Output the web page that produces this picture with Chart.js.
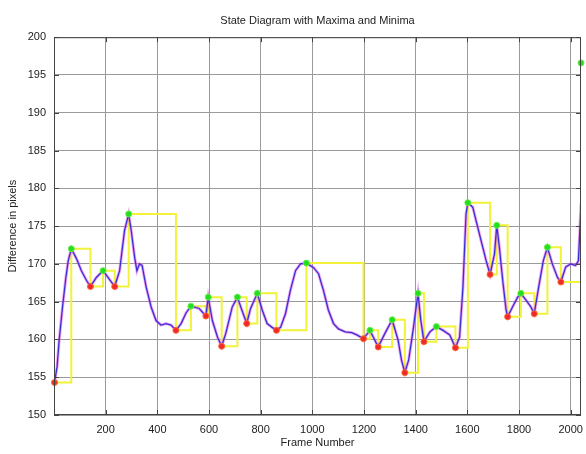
<!DOCTYPE html>
<html>
<head>
<meta charset="utf-8">
<title>State Diagram with Maxima and Minima</title>
<script src="https://cdn.jsdelivr.net/npm/chart.js@4.4.1/dist/chart.umd.min.js"></script>
<style>
  html, body { margin: 0; padding: 0; background: #fff; }
  #wrap { width: 586px; height: 454px; }
</style>
</head>
<body>
<div id="wrap"><canvas id="stateChart" width="586" height="454"></canvas></div>
<script>
// blue curve: difference per frame
const frames = [2, 12, 20, 33, 46, 55, 67, 87, 106, 126, 141, 164, 190, 209, 235, 254, 273, 289, 299, 312,
  321, 331, 341, 357, 376, 395, 414, 434, 453, 472, 492, 511, 530, 562, 588, 597, 613, 633, 649, 665,
  690, 710, 725, 746, 761, 787, 806, 825, 844, 861, 877, 896, 915, 935, 954, 977, 1005, 1024, 1043, 1062,
  1082, 1101, 1127, 1153, 1172, 1198, 1223, 1255, 1281, 1309, 1332, 1345, 1358, 1373, 1390, 1409, 1420, 1432, 1455, 1480,
  1506, 1532, 1554, 1570, 1583, 1595, 1602, 1621, 1634, 1653, 1673, 1688, 1705, 1714, 1724, 1737, 1750, 1756, 1775, 1795,
  1807, 1827, 1846, 1859, 1876, 1894, 1910, 1929, 1949, 1962, 1981, 2000, 2019, 2030, 2036, 2040];
const diffValues = [154.3, 156.4, 159.9, 164.3, 168.2, 170.4, 172.0, 170.7, 169.1, 167.8, 167.0, 168.2, 169.1, 168.2, 167.0, 169.1, 174.4, 176.6, 174.4, 170.9,
  169.1, 170.0, 169.8, 166.9, 164.3, 162.5, 161.9, 162.1, 161.9, 161.2, 162.1, 163.5, 164.4, 164.1, 163.1, 165.6, 162.5, 160.3, 159.1, 160.8,
  164.3, 165.6, 164.1, 162.1, 164.1, 166.1, 163.9, 162.1, 161.6, 161.2, 161.6, 163.4, 166.5, 169.1, 170.0, 170.1, 169.5, 168.7, 166.5, 163.9,
  162.1, 161.4, 161.0, 160.9, 160.6, 160.1, 161.2, 159.0, 160.8, 162.6, 159.9, 157.3, 155.6, 157.3, 161.2, 166.1, 162.5, 159.7, 161.0, 161.7,
  161.2, 160.6, 158.9, 160.3, 166.9, 176.6, 178.1, 177.5, 175.7, 173.1, 170.4, 168.6, 171.3, 175.1, 172.2, 167.8, 163.9, 163.0, 164.3, 165.6,
  166.1, 165.2, 164.3, 163.4, 166.9, 170.4, 172.2, 170.0, 168.2, 167.6, 169.6, 170.0, 169.8, 170.4, 174.8, 178.0];

// maxima (green) and minima (red)
const maxFrames = [67, 190, 289, 530, 597, 710, 787, 977, 1223, 1309, 1409, 1480, 1602, 1714, 1807, 1910, 2040];
const maxValues = [172.0, 169.1, 176.6, 164.4, 165.6, 165.6, 166.1, 170.1, 161.2, 162.6, 166.1, 161.7, 178.1, 175.1, 166.1, 172.2, 196.6];
const minFrames = [2, 141, 235, 472, 588, 649, 746, 861, 1198, 1255, 1358, 1432, 1554, 1688, 1756, 1859, 1962];
const minValues = [154.3, 167.0, 167.0, 161.2, 163.1, 159.1, 162.1, 161.2, 160.1, 159.0, 155.6, 159.7, 158.9, 168.6, 163.0, 163.4, 167.6];

// axis ticks
const xTicks = [200, 400, 600, 800, 1000, 1200, 1400, 1600, 1800, 2000];
const yTicks = [150, 155, 160, 165, 170, 175, 180, 185, 190, 195, 200];

const curvePts = frames.map((f, i) => ({ x: f, y: diffValues[i] }));
const maxPts = maxFrames.map((f, i) => ({ x: f, y: maxValues[i] }));
const minPts = minFrames.map((f, i) => ({ x: f, y: minValues[i] }));
// state diagram: holds the last extremum until the next one
const statePts = maxPts.concat(minPts).sort((a, b) => a.x - b.x);

const FONT = { family: '"Liberation Sans", Arial, sans-serif', size: 11 };

// box round the plot with inward ticks, like matlab axes
const boxPlugin = {
  id: 'box',
  afterDatasetsDraw(chart) {
    const { ctx, chartArea: a, scales } = chart;
    ctx.save();
    ctx.strokeStyle = '#444';
    ctx.lineWidth = 1;
    ctx.strokeRect(a.left + 0.5, a.top + 0.5, a.right - a.left - 1, a.bottom - a.top - 1);
    ctx.beginPath();
    scales.x.ticks.forEach(t => {
      const px = Math.round(scales.x.getPixelForValue(t.value)) + 0.5;
      ctx.moveTo(px, a.bottom); ctx.lineTo(px, a.bottom - 5);
      ctx.moveTo(px, a.top); ctx.lineTo(px, a.top + 5);
    });
    scales.y.ticks.forEach(t => {
      const py = Math.round(scales.y.getPixelForValue(t.value)) + 0.5;
      ctx.moveTo(a.left, py); ctx.lineTo(a.left + 5, py);
      ctx.moveTo(a.right, py); ctx.lineTo(a.right - 5, py);
    });
    ctx.stroke();
    ctx.restore();
  }
};

new Chart(document.getElementById('stateChart').getContext('2d'), {
  type: 'scatter',
  data: {
    datasets: [
      {
        label: 'Maxima',
        data: maxPts,
        pointStyle: 'circle',
        pointRadius: 3,
        pointBackgroundColor: '#22dd22',
        pointBorderColor: '#66ee44',
        pointBorderWidth: 1,
        clip: false,
        order: 0
      },
      {
        label: 'Minima',
        data: minPts,
        pointStyle: 'circle',
        pointRadius: 3,
        pointBackgroundColor: '#ee2a2a',
        pointBorderColor: '#ff6633',
        pointBorderWidth: 1,
        clip: false,
        order: 0
      },
      {
        label: 'Difference',
        data: curvePts,
        showLine: true,
        borderColor: '#3a2fd6',
        borderWidth: 1.3,
        pointRadius: 0,
        tension: 0,
        order: 1
      },
      {
        label: 'Difference (halo)',
        data: curvePts,
        showLine: true,
        borderColor: 'rgba(225, 90, 230, 0.55)',
        borderWidth: 3,
        pointRadius: 0,
        tension: 0,
        order: 2
      },
      {
        label: 'State',
        data: statePts,
        showLine: true,
        stepped: true,
        borderColor: '#f2f23a',
        borderWidth: 2,
        pointRadius: 0,
        order: 3
      }
    ]
  },
  options: {
    responsive: false,
    animation: false,
    layout: { padding: { top: 0, right: 3, bottom: 0, left: 0 } },
    plugins: {
      legend: { display: false },
      tooltip: { enabled: false },
      title: {
        display: true,
        text: 'State Diagram with Maxima and Minima',
        fullSize: false,
        color: '#222',
        font: { ...FONT, weight: 'normal' },
        padding: { top: 14, bottom: 10 }
      }
    },
    scales: {
      x: {
        type: 'linear',
        min: 0,
        max: 2040,
        border: { display: false },
        grid: { color: '#9a9a9a', borderDash: [1, 3], drawTicks: false },
        ticks: { color: '#222', font: FONT, padding: 8, maxRotation: 0, autoSkip: false, callback: v => String(v) },
        afterBuildTicks: s => { s.ticks = xTicks.map(v => ({ value: v })); },
        title: { display: true, text: 'Frame Number', color: '#222', font: FONT, padding: { top: 0, bottom: 4 } },
        afterFit: s => { s.height = 39; s.paddingLeft = 0; s.paddingRight = 0; }
      },
      y: {
        type: 'linear',
        min: 150,
        max: 200,
        border: { display: false },
        grid: { color: '#9a9a9a', borderDash: [1, 3], drawTicks: false },
        ticks: { color: '#222', font: FONT, padding: 8, autoSkip: false, callback: v => String(v) },
        afterBuildTicks: s => { s.ticks = yTicks.map(v => ({ value: v })); },
        title: { display: true, text: 'Difference in pixels', color: '#222', font: FONT, padding: { top: 6, bottom: 0 } },
        afterFit: s => { s.width = 54; s.paddingTop = 0; s.paddingBottom = 0; }
      }
    }
  },
  plugins: [boxPlugin]
});
</script>
</body>
</html>
